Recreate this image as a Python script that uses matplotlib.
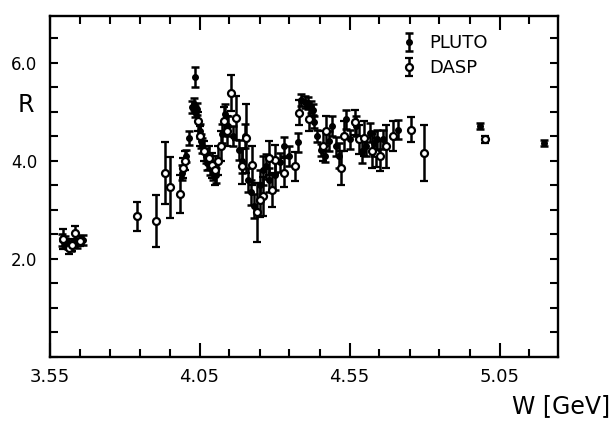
import matplotlib.pyplot as plt
from matplotlib.ticker import MultipleLocator, FixedLocator

# PLUTO measurements: W [GeV], R, error
pluto_w = [3.59, 3.60, 3.61, 3.62, 3.64, 3.66, 3.99, 4.005, 4.015, 4.034,
           4.025, 4.03, 4.035, 4.04, 4.05, 4.055, 4.06, 4.07, 4.075, 4.085,
           4.095, 4.105, 4.125, 4.135, 4.145, 4.16, 4.18, 4.20, 4.21, 4.22,
           4.233, 4.272, 4.283, 4.317, 4.333, 4.35, 4.377, 4.389, 4.40, 4.41,
           4.42, 4.427, 4.433, 4.443, 4.455, 4.467, 4.493, 4.505, 4.539, 4.55,
           4.572, 4.605, 4.617, 4.643, 4.66, 4.71, 4.986, 5.197,
           4.19, 4.25, 4.26, 4.30, 4.48, 4.515, 4.59, 4.63]
pluto_r = [2.38, 2.35, 2.30, 2.25, 2.32, 2.38, 3.75, 4.10, 4.46, 5.70,
           5.10, 5.15, 5.00, 5.05, 4.60, 4.40, 4.30, 4.10, 3.95, 3.85,
           3.75, 3.70, 4.55, 4.95, 4.70, 4.50, 4.22, 4.50, 3.60, 3.35,
           3.07, 3.88, 3.60, 3.96, 4.29, 4.09, 4.37, 5.24, 5.20, 5.17,
           5.10, 5.04, 4.78, 4.50, 4.22, 4.09, 4.70, 4.29, 4.84, 4.43,
           4.70, 4.29, 4.57, 4.43, 4.43, 4.63, 4.71, 4.35,
           4.00, 3.50, 3.80, 3.70, 4.40, 4.10, 4.20, 4.35]
pluto_e = [0.12, 0.10, 0.10, 0.10, 0.10, 0.10, 0.15, 0.12, 0.15, 0.20,
           0.12, 0.12, 0.12, 0.12, 0.15, 0.15, 0.15, 0.15, 0.15, 0.15,
           0.15, 0.15, 0.20, 0.20, 0.20, 0.20, 0.20, 0.25, 0.25, 0.25,
           0.25, 0.25, 0.25, 0.20, 0.20, 0.20, 0.20, 0.12, 0.12, 0.12,
           0.12, 0.12, 0.12, 0.12, 0.12, 0.12, 0.20, 0.20, 0.20, 0.20,
           0.20, 0.20, 0.20, 0.20, 0.20, 0.20, 0.06, 0.06,
           0.25, 0.30, 0.30, 0.30, 0.20, 0.25, 0.25, 0.25]

# DASP measurements
dasp_w = [3.595, 3.615, 3.625, 3.635, 3.65, 3.84, 3.905, 3.935, 3.95, 3.985,
          3.995, 4.0, 4.045, 4.052, 4.065, 4.08, 4.09, 4.10, 4.11, 4.12,
          4.13, 4.14, 4.155, 4.17, 4.205, 4.19, 4.243, 4.263, 4.293, 4.30,
          4.333, 4.367, 4.383, 4.415, 4.46, 4.522, 4.53, 4.567, 4.583, 4.639,
          4.65, 4.672, 4.694, 4.755, 4.797, 5.0,
          4.225, 4.25, 4.28, 4.47, 4.60, 4.625]
dasp_r = [2.40, 2.22, 2.28, 2.52, 2.36, 2.86, 2.77, 3.75, 3.45, 3.31,
          3.85, 4.0, 4.8, 4.5, 4.2, 4.05, 3.9, 3.8, 4.0, 4.3,
          4.8, 4.6, 5.38, 4.87, 4.45, 3.88, 2.94, 3.27, 3.4, 4.02,
          3.75, 3.88, 4.98, 4.85, 4.3, 3.85, 4.5, 4.78, 4.43, 4.16,
          4.09, 4.29, 4.5, 4.63, 4.16, 4.43,
          3.9, 3.2, 4.05, 4.6, 4.45, 4.2]
dasp_e = [0.20, 0.12, 0.12, 0.15, 0.10, 0.29, 0.53, 0.63, 0.63, 0.39,
          0.2, 0.2, 0.2, 0.2, 0.2, 0.25, 0.25, 0.3, 0.3, 0.3,
          0.3, 0.3, 0.37, 0.45, 0.7, 0.35, 0.6, 0.4, 0.35, 0.3,
          0.3, 0.3, 0.25, 0.25, 0.3, 0.35, 0.3, 0.25, 0.3, 0.3,
          0.3, 0.44, 0.3, 0.26, 0.57, 0.07,
          0.4, 0.35, 0.35, 0.3, 0.35, 0.35]

fig = plt.figure(figsize=(6.16, 4.21), dpi=100)
ax = fig.add_axes([49.5 / 616, 1 - 356.5 / 421, (558 - 49.5) / 616, (356.5 - 16) / 421])

eb = dict(ls='none', color='black', ecolor='black', elinewidth=1.8,
          capsize=3, capthick=1.8)
ax.errorbar(pluto_w, pluto_r, yerr=pluto_e, fmt='o', ms=4, mfc='black',
            mec='black', label='PLUTO', **eb)
ax.errorbar(dasp_w, dasp_r, yerr=dasp_e, fmt='o', ms=5, mfc='white',
            mec='black', mew=1.6, label='DASP', **eb)

ax.set_xlim(3.55, 3.55 + (558 - 49.5) / 300)
ax.set_ylim(0, 6.95)

ax.xaxis.set_major_locator(FixedLocator([3.55, 4.05, 4.55, 5.05]))
ax.xaxis.set_minor_locator(MultipleLocator(0.1, offset=0.05))
ax.yaxis.set_major_locator(FixedLocator([2.0, 4.0, 6.0]))
ax.yaxis.set_minor_locator(MultipleLocator(0.5))
ax.xaxis.set_major_formatter(plt.FuncFormatter(lambda v, p: f'{v:.2f}'))
ax.yaxis.set_major_formatter(plt.FuncFormatter(lambda v, p: f'{v:.1f}'))

ax.tick_params(which='both', direction='in', top=True, right=True, width=1.5)
ax.tick_params(axis='x', which='major', length=10, labelsize=13, pad=8)
ax.tick_params(axis='x', which='minor', length=6)
ax.tick_params(axis='y', which='both', length=6)
ax.tick_params(axis='y', which='major', labelsize=12, pad=9)
for lbl in ax.get_xticklabels() + ax.get_yticklabels():
    lbl.set_fontweight('medium')
for s in ax.spines.values():
    s.set_linewidth(1.7)

leg = ax.legend(loc='upper left', bbox_to_anchor=(400 / 616, 1 - 34 / 421),
                bbox_transform=fig.transFigure, frameon=False, fontsize=13,
                handlelength=1.0, handletextpad=0.6, labelspacing=0.4,
                borderpad=0, borderaxespad=0)

fig.text(26 / 616, 1 - 105 / 421, 'R', fontsize=17, ha='center', va='center')
fig.text(561 / 616, 1 - 406 / 421, 'W [GeV]', fontsize=17, ha='center', va='center')

fig.savefig('out.png', dpi=100)
